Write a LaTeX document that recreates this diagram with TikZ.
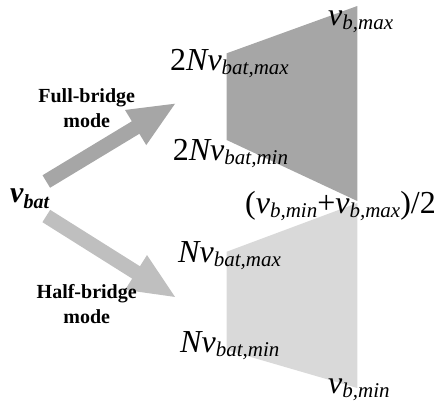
\documentclass[tikz,border=0pt]{standalone}
\usepackage{fontspec}
\setmainfont{Liberation Serif}
\usetikzlibrary{arrows.meta}

\newcommand{\bigsize}{\fontsize{32}{38}\selectfont}
\newcommand{\smallsize}{\fontsize{21}{25}\selectfont}
\newcommand{\vsubs}[1]{\raisebox{-4pt}{\smallsize\itshape #1}}

\begin{document}
\begin{tikzpicture}[
        x=1pt, y=-1pt,
        % shaded output ranges
        fullrange/.style={fill=black!35},
        halfrange/.style={fill=black!15},
        % wide block arrows
        fullarrow/.style={
            -{Triangle[length=48pt,width=37pt]},
            line width=14.6pt,
            draw=black!35
        },
        halfarrow/.style={
            -{Triangle[length=48pt,width=37pt]},
            line width=14.6pt,
            draw=black!25
        },
        lab/.style={inner sep=0pt, anchor=base west, font=\bigsize},
        modelab/.style={inner sep=0pt, align=center, font=\bfseries\fontsize{20}{25}\selectfont}
    ]
    \useasboundingbox (0,0) rectangle (441,408);

    % ================= ranges =================
    \fill[fullrange] (226.7,53.3) -- (357.3,6) -- (357.3,201) -- (226.7,140) -- cycle;
    \fill[halfrange] (226.7,251.7) -- (357.3,203) -- (357.3,388) -- (226.7,350) -- cycle;

    % ================= arrows =================
    \coordinate (fulltail) at (46.3,181.5);
    \coordinate (fulltip) at (176.7,102.7);
    \coordinate (halftail) at (46.3,216);
    \coordinate (halftip) at (176.7,298);
    \draw[fullarrow] (fulltail) -- (fulltip);
    \draw[halfarrow] (halftail) -- (halftip);

    % ================= labels =================
    \node[lab, font=\fontsize{30}{36}\selectfont\bfseries\itshape] (vbat) at (10,202)
        {v\raisebox{-6pt}{\fontsize{20}{24}\selectfont bat}};
    \node[modelab] (fullmode) at (86.7,107.7) {Full-bridge\\mode};
    \node[modelab] (halfmode) at (86.7,304) {Half-bridge\\mode};

    \node[lab] (vbmax) at (328,25) {\itshape v\vsubs{b,max}};
    \node[lab] (fullmax) at (170,70) {2\textit{Nv}\vsubs{bat,max}};
    \node[lab] (fullmin) at (172.7,160) {2\textit{Nv}\vsubs{bat,min}};
    \node[lab] (mid) at (245,213) {(\textit{v}\vsubs{b,min}+\textit{v}\vsubs{b,max})/2};
    \node[lab] (halfmax) at (178,262) {\textit{Nv}\vsubs{bat,max}};
    \node[lab] (halfmin) at (180,352) {\textit{Nv}\vsubs{bat,min}};
    \node[lab] (vbmin) at (328,393) {\itshape v\vsubs{b,min}};

\end{tikzpicture}
\end{document}
